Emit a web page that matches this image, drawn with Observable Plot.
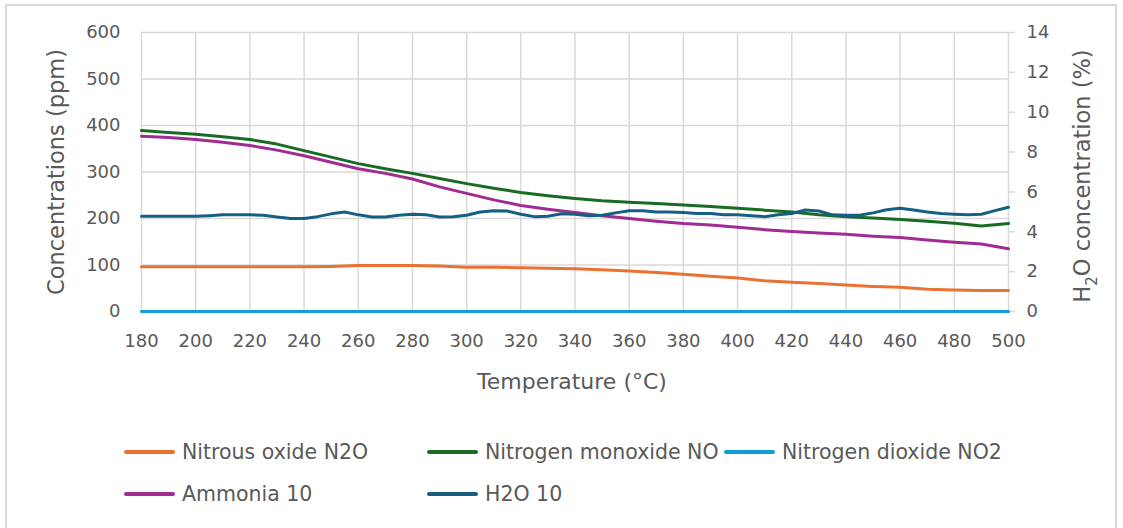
<!DOCTYPE html>
<html><head><meta charset="utf-8">
<script src="https://cdn.jsdelivr.net/npm/d3@7"></script>
<script src="https://cdn.jsdelivr.net/npm/@observablehq/plot@0.6"></script>
<style>
body{margin:0;background:#fff;font-family:"DejaVu Sans",sans-serif;}
#wrap{position:relative;width:1123px;height:528px;overflow:hidden;background:#fff;}
#frame{position:absolute;left:5px;top:4px;width:1112px;height:600px;border:2px solid #d9d9d9;box-sizing:border-box;}
#chart{position:absolute;left:0;top:0;}
.leg{position:absolute;display:flex;align-items:center;font-size:20.5px;color:#595959;white-space:nowrap;transform:translateY(-50%);}
.sw{width:51px;height:4px;border-radius:2px;margin-right:7px;}
</style></head>
<body><div id="wrap"><div id="frame"></div><div id="chart"></div></div>
<script>
// Temperature grid (°C)
const temps = [180,190,200,210,220,230,240,250,260,270,280,290,300,310,320,330,340,350,360,370,380,390,400,410,420,430,440,450,460,470,480,490,500];
// Concentrations (ppm)
const n2o = [96,96,96,96,96,96,96,97,99,99,99,98,95,95,94,93,92,90,87,84,80,76,72,66,63,60,57,54,52,48,46,45,45];
const no  = [389,385,381,376,370,360,346,332,318,307,297,286,275,265,256,249,243,238,235,232,229,226,222,218,214,208,204,201,198,194,190,184,189];
const no2 = [0,0,0,0,0,0,0,0,0,0,0,0,0,0,0,0,0,0,0,0,0,0,0,0,0,0,0,0,0,0,0,0,0];
const nh3 = [377,374,370,364,357,347,335,321,307,297,285,268,254,240,228,220,213,206,200,194,189,186,181,176,172,169,166,162,159,154,149,145,135];
// H2O (%) on secondary axis, finer grid
const h2oTemps = [180,185,190,195,200,205,210,215,220,225,230,235,240,245,250,255,260,265,270,275,280,285,290,295,300,305,310,315,320,325,330,335,340,345,350,355,360,365,370,375,380,385,390,395,400,405,410,415,420,425,430,435,440,445,450,455,460,465,470,475,480,485,490,495,500];
const h2o = [4.78,4.78,4.78,4.78,4.78,4.81,4.85,4.85,4.85,4.83,4.74,4.67,4.67,4.76,4.90,4.99,4.85,4.74,4.74,4.83,4.88,4.85,4.74,4.76,4.83,4.99,5.06,5.04,4.88,4.76,4.78,4.90,4.88,4.81,4.83,4.95,5.06,5.06,4.99,4.99,4.97,4.92,4.92,4.85,4.85,4.81,4.76,4.85,4.92,5.09,5.04,4.85,4.83,4.83,4.95,5.11,5.18,5.09,4.99,4.92,4.88,4.85,4.88,5.06,5.23];

const xTicks = [180,200,220,240,260,280,300,320,340,360,380,400,420,440,460,480,500];
const yTicks = [0,100,200,300,400,500,600];
const y2Ticks = [0,2,4,6,8,10,12,14];

const seriesNames = ["Nitrous oxide N2O","Nitrogen monoxide NO","Nitrogen dioxide NO2","Ammonia 10","H2O 10"];
const seriesColors = ["#E97132","#196B24","#0F9ED5","#A02B93","#156082"];

const Y2MAX = 14, YMAX = 600;
const toPrimary = v => v * YMAX / Y2MAX;

const rows = (name, xs, vs, conv) => xs.map((t, i) => ({t, v: conv ? conv(vs[i]) : vs[i], s: name}));
const data = [
  rows(seriesNames[0], temps, n2o),
  rows(seriesNames[1], temps, no),
  rows(seriesNames[2], temps, no2),
  rows(seriesNames[3], temps, nh3),
  rows(seriesNames[4], h2oTemps, h2o, toPrimary)
];

const axisColor = "#595959";
const chart = Plot.plot({
  width: 1123,
  height: 400,
  marginLeft: 141,
  marginRight: 115,
  marginTop: 32,
  marginBottom: 89,
  style: {fontFamily: "'DejaVu Sans', sans-serif", fontSize: "18px", color: axisColor, background: "transparent"},
  x: {domain: [180, 500]},
  y: {domain: [0, 600]},
  marks: [
    Plot.gridY(yTicks, {stroke: "#d9d9d9", strokeOpacity: 1, strokeWidth: 1.5}),
    Plot.gridX(xTicks, {stroke: "#d9d9d9", strokeOpacity: 1, strokeWidth: 1.5}),
    Plot.axisX(xTicks, {tickSize: 0, tickPadding: 23, label: null, fill: axisColor}),
    Plot.axisY(yTicks, {tickSize: 0, tickPadding: 21, label: null, fill: axisColor}),
    Plot.axisY(y2Ticks.map(toPrimary), {anchor: "right", tickSize: 6, tickPadding: 12, stroke: "#d9d9d9", strokeWidth: 1.5, label: null, fill: axisColor, tickFormat: d => String(Math.round(d * Y2MAX / YMAX))}),
    ...data.map((d, i) => Plot.line(d, {x: "t", y: "v", stroke: seriesColors[i], strokeWidth: 3, strokeLinejoin: "round"}))
  ]
});

const svg = d3.select(chart);
// Axis titles
svg.append("text").attr("x", 572).attr("y", 383).attr("text-anchor", "middle").attr("dominant-baseline", "middle")
  .attr("fill", axisColor).style("font-size", "22px").text("Temperature (°C)");
svg.append("text").attr("transform", "translate(57,172) rotate(-90)").attr("text-anchor", "middle").attr("dominant-baseline", "middle")
  .attr("fill", axisColor).style("font-size", "22.5px").text("Concentrations (ppm)");
const t2 = svg.append("text").attr("transform", "translate(1083,176) rotate(-90)").attr("text-anchor", "middle").attr("dominant-baseline", "middle")
  .attr("fill", axisColor).style("font-size", "22.5px");
t2.append("tspan").text("H");
t2.append("tspan").attr("baseline-shift", "sub").style("font-size", "15px").text("2");
t2.append("tspan").text("O concentration (%)");

document.getElementById("chart").appendChild(chart);

// Legend
const legPos = [[124,452],[427,452],[724,452],[124,494],[427,494]];
const wrap = document.getElementById("wrap");
seriesNames.forEach((name, i) => {
  const item = document.createElement("div");
  item.className = "leg";
  item.style.left = legPos[i][0] + "px";
  item.style.top = legPos[i][1] + "px";
  const sw = document.createElement("div");
  sw.className = "sw";
  sw.style.background = seriesColors[i];
  const lab = document.createElement("span");
  lab.textContent = name;
  item.appendChild(sw);
  item.appendChild(lab);
  wrap.appendChild(item);
});
</script>
</body></html>
